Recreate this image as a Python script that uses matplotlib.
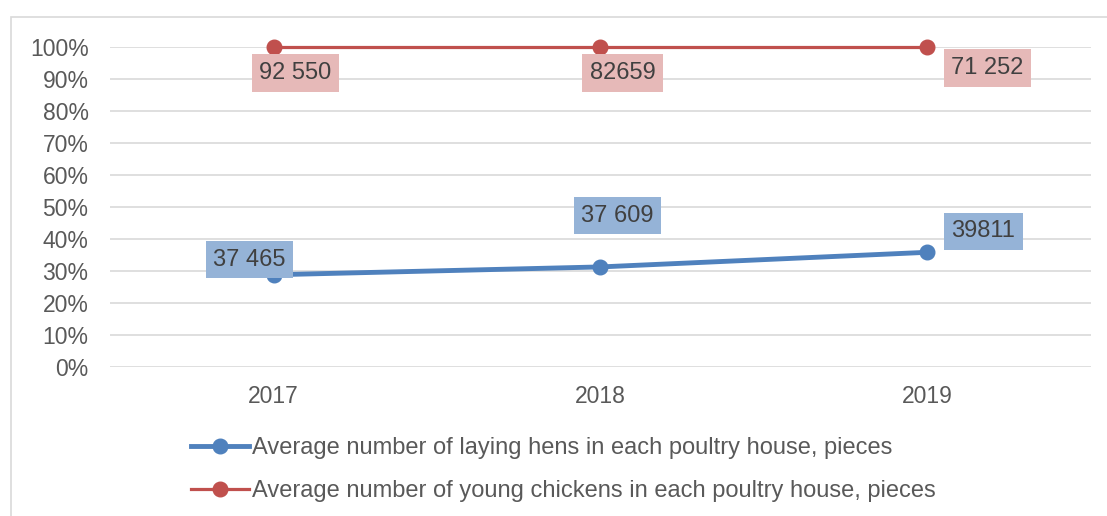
import matplotlib
matplotlib.use("Agg")
import matplotlib.pyplot as plt
import numpy as np
from matplotlib.patches import Rectangle

years = ["2017", "2018", "2019"]
hens = [37465, 37609, 39811]
chickens = [92550, 82659, 71252]
hens_labels = ["37 465", "37 609", "39811"]
chickens_labels = ["92 550", "82659", "71 252"]
hens_name = "Average number of laying hens in each poultry house, pieces"
chickens_name = "Average number of young chickens in each poultry house, pieces"

plt.rcParams['font.family'] = ['Liberation Sans', 'DejaVu Sans']

# 100% stacked lines
h = np.array(hens, dtype=float)
c = np.array(chickens, dtype=float)
total = h + c
hens_pct = h / total
chick_pct = (h + c) / total

fig = plt.figure(figsize=(11.07, 5.16), dpi=100)
ax = fig.add_axes([0.0994, 0.2888, 0.8861, 0.6201])

# outer frame
fig.patches.append(Rectangle((11 / 1107, -0.01), 1.2, 1 - 17 / 516 + 0.01,
                             transform=fig.transFigure, fill=False,
                             edgecolor="#D9D9D9", linewidth=1.2))

x = np.arange(len(years))
blue = "#4F81BD"
red = "#C0504D"
ax.plot(x, hens_pct, color=blue, lw=3.5, marker="o", ms=10.5, label=hens_name,
        zorder=3, clip_on=False)
ax.plot(x, chick_pct, color=red, lw=2.3, marker="o", ms=10.5, label=chickens_name,
        zorder=3, clip_on=False)

ax.set_xlim(-0.5, 2.5)
ax.set_ylim(0, 1)
ax.set_yticks(np.arange(0, 1.01, 0.1))
ax.set_yticklabels([f"{int(round(v * 100))}%" for v in np.arange(0, 1.01, 0.1)])
ax.set_xticks(x)
ax.set_xticklabels(years)
ax.yaxis.grid(True, color="#D9D9D9", lw=1.2)
ax.set_axisbelow(True)
for s in ax.spines.values():
    s.set_visible(False)
ax.tick_params(length=0, labelsize=16.5, labelcolor="#595959")
ax.tick_params(axis="y", pad=15.5)
ax.tick_params(axis="x", pad=13)

red_off = [(22, -26), (22, -26), (60, -21)]
blue_off = [(-24, 15), (17, 51), (56, 21)]
for i in range(len(years)):
    ax.annotate(chickens_labels[i], (x[i], chick_pct[i]), xytext=red_off[i],
                textcoords="offset pixels", ha="center", va="center",
                fontsize=17, color="#404040",
                bbox=dict(boxstyle="square,pad=0.32", fc="#E6B9B8", ec="none"))
    ax.annotate(hens_labels[i], (x[i], hens_pct[i]), xytext=blue_off[i],
                textcoords="offset pixels", ha="center", va="center",
                fontsize=17, color="#404040", zorder=4,
                bbox=dict(boxstyle="square,pad=0.32", fc="#95B3D7", ec="none"))

fig.legend(loc="upper left", bbox_to_anchor=(191 / 1107, 1 - 437 / 516),
           frameon=False, fontsize=17, labelcolor="#595959",
           handlelength=2.46, handletextpad=0.13, labelspacing=0.88,
           borderaxespad=0, borderpad=0)

fig.savefig("out.png", dpi=100)
